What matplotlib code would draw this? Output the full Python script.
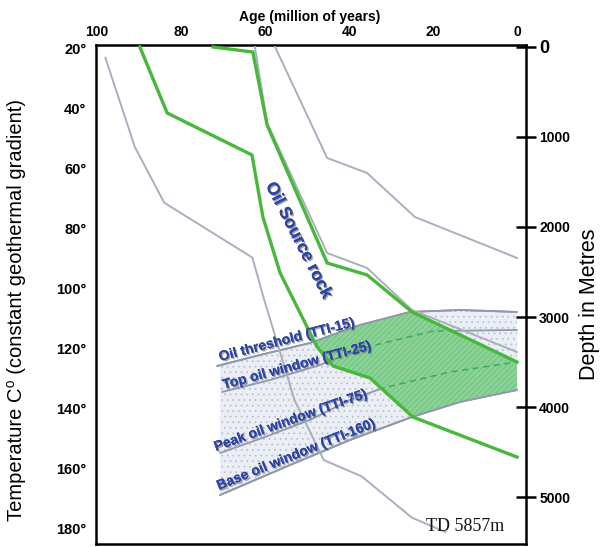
import numpy as np
import matplotlib
matplotlib.use("Agg")
import matplotlib.pyplot as plt
import matplotlib.patheffects as pe

plt.rcParams['font.family'] = ['Liberation Sans', 'DejaVu Sans']
plt.rcParams['hatch.linewidth'] = 0.6

# Burial history curves: age (Ma) vs depth (m)
grey1_age = [98, 91, 84, 63, 60.5, 53, 46, 37, 25, 17]
grey1_depth = [120, 1110, 1730, 2340, 2760, 3920, 4590, 4770, 5230, 5390]
grey2_age = [62.4, 59.5, 45.2, 35.7, 25.0, 0]
grey2_depth = [0, 844, 2289, 2456, 2922, 3389]
grey3_age = [57.6, 45.2, 35.7, 24.3, 0]
grey3_depth = [0, 1233, 1400, 1889, 2344]

# Oil source rock: top and base
src_top_age = [72.4, 62.9, 59.5, 45.2, 35.7, 25.0, 16.0, 0]
src_top_depth = [0, 56, 867, 2400, 2533, 2944, 3144, 3500]
src_base_age = [89.8, 83.3, 63.1, 60.5, 56.4, 47.6, 43.8, 35.0, 24.8, 0]
src_base_depth = [0, 733, 1200, 1889, 2511, 3333, 3544, 3678, 4111, 4556]

# Maturity (TTI) lines
tti15_age = [71.4, 61.2, 49.3, 37.4, 25.5, 13.6, 0]
tti15_depth = [3544, 3422, 3289, 3089, 2944, 2922, 2944]
tti25_age = [70.2, 58.8, 47.6, 35.7, 20.0, 0]
tti25_depth = [3833, 3700, 3544, 3333, 3156, 3144]
tti75_age = [70.7, 60.0, 49.3, 39.8, 31.9, 16.0, 0]
tti75_depth = [4511, 4333, 4144, 3922, 3789, 3611, 3500]
tti160_age = [70.7, 54.0, 39.8, 25.0, 13.6, 0]
tti160_depth = [4978, 4644, 4367, 4111, 3944, 3811]

age_ticks = [100, 80, 60, 40, 20, 0]
depth_ticks = [0, 1000, 2000, 3000, 4000, 5000]
temp_ticks = [20, 40, 60, 80, 100, 120, 140, 160, 180]

W, H = 611, 547
fig = plt.figure(figsize=(W / 100, H / 100), dpi=100)
ax = fig.add_axes([96 / W, 1 - 544 / H, 430 / W, 499 / H])
tax = ax.twinx()
ax.set_xlim(100.24, -2.14)
ax.set_ylim(5522, -22)


def interp(age_grid, ages, depths):
    a = np.asarray(ages)[::-1]
    d = np.asarray(depths)[::-1]
    out = np.interp(age_grid, a, d)
    out[(age_grid < a.min()) | (age_grid > a.max())] = np.nan
    return out


grid = np.linspace(0, 71.4, 1500)
t15 = interp(grid, tti15_age, tti15_depth)
t160 = interp(grid, tti160_age, tti160_depth)

# stippled oil-window band
ax.fill_between(grid, t15, t160, facecolor='#ebeef4', edgecolor='#bcc2cd',
                hatch='...', linewidth=0, zorder=1)

# source rock within the oil window
top = np.fmax(interp(grid, src_top_age, src_top_depth), t15)
bot = np.fmin(interp(grid, src_base_age, src_base_depth), t160)
mask = top < bot
green = ax.fill_between(grid, top, bot, where=mask, interpolate=True,
                        facecolor='#8ad296', edgecolor='#6fc07e',
                        hatch='//////', linewidth=0, zorder=2)

band_kw = dict(color='#8e99aa', lw=1.3, solid_capstyle='round')
for a, d in [(tti15_age, tti15_depth), (tti25_age, tti25_depth),
             (tti75_age, tti75_depth), (tti160_age, tti160_depth)]:
    ax.plot(a, d, zorder=1.5, **band_kw)
for a, d in [(tti15_age, tti15_depth), (tti160_age, tti160_depth)]:
    ax.plot(a, d, zorder=2.5, **band_kw)

clip_path = green.get_paths()[0]
for a, d in [(tti25_age, tti25_depth), (tti75_age, tti75_depth)]:
    ln, = ax.plot(a, d, color='#3ea95a', lw=1.1, ls=(0, (4, 3)), zorder=3)
    ln.set_clip_path(clip_path, transform=ax.transData)

grey_kw = dict(color='#a8b0bd', lw=1.4, zorder=3)
ax.plot(grey1_age, grey1_depth, **grey_kw)
ax.plot(grey2_age, grey2_depth, **grey_kw)
ax.plot(grey3_age, grey3_depth, **grey_kw)

green_kw = dict(color='#47b83c', lw=2.4, zorder=4, solid_joinstyle='miter')
ax.plot(src_top_age, src_top_depth, **green_kw)
ax.plot(src_base_age, src_base_depth, **green_kw)

shadow = [pe.withSimplePatchShadow(offset=(1, -1), shadow_rgbFace='#7a7a7a', alpha=0.7),
          pe.Normal()]
blue = '#2b44a6'
ax.text(52.0, 2150, 'Oil Source rock', rotation=-63, ha='center', va='center',
        fontsize=12.5, fontweight='bold', color=blue, path_effects=shadow, zorder=6)

labels = [('Oil threshold (TTI-15)', 70.7, 3489, 14.5),
          ('Top oil window (TTI-25)', 69.8, 3800, 15.0),
          ('Peak oil window (TTI-75)', 71.7, 4489, 19.5),
          ('Base oil window (TTI-160)', 71.0, 4922, 22.0)]
for txt, a, d, rot in labels:
    ax.text(a, d, txt, rotation=rot, rotation_mode='anchor', ha='left', va='baseline',
            fontsize=10, fontweight='bold', color=blue, path_effects=shadow, zorder=6)

ax.text(12.4, 5333, 'TD 5857m', ha='center', va='center', fontsize=13,
        family='Liberation Serif', color='#111111', zorder=6)

# axes styling
for s in ax.spines.values():
    s.set_linewidth(1.8)
ax.xaxis.tick_top()
ax.set_xticks(age_ticks)
ax.set_xticklabels([str(v) for v in age_ticks])
ax.tick_params(axis='x', length=0, pad=4, labelsize=10)
for lab in ax.get_xticklabels():
    lab.set_fontweight('bold')

ax.yaxis.tick_right()
ax.set_yticks(depth_ticks)
ax.set_yticklabels([str(v) for v in depth_ticks])
ax.tick_params(axis='y', direction='inout', length=15, width=1.8, pad=2, labelsize=10)
for i, lab in enumerate(ax.get_yticklabels()):
    lab.set_fontweight('bold')
    if i == 0:
        lab.set_fontsize(13)

tax.yaxis.tick_left()
tax.set_ylim(185.3, 19)
tax.set_yticks(temp_ticks)
tax.set_yticklabels([f'{v}°' for v in temp_ticks])
tax.tick_params(axis='y', length=0, pad=7, labelsize=10.5)
for lab in tax.get_yticklabels():
    lab.set_fontweight('bold')
tax.set_xlim(ax.get_xlim())
for s in tax.spines.values():
    s.set_visible(False)

fig.text(310 / W, 1 - 17 / H, 'Age (million of years)', ha='center', va='center',
         fontsize=10, fontweight='bold')
fig.text(17 / W, 1 - 310 / H, 'Temperature C\u2070 (constant geothermal gradient)',
         rotation=90, ha='center', va='center', fontsize=14.5)
fig.text(590 / W, 1 - 304 / H, 'Depth in Metres', rotation=90, ha='center',
         va='center', fontsize=15.5)

fig.savefig('out.png', dpi=100)
